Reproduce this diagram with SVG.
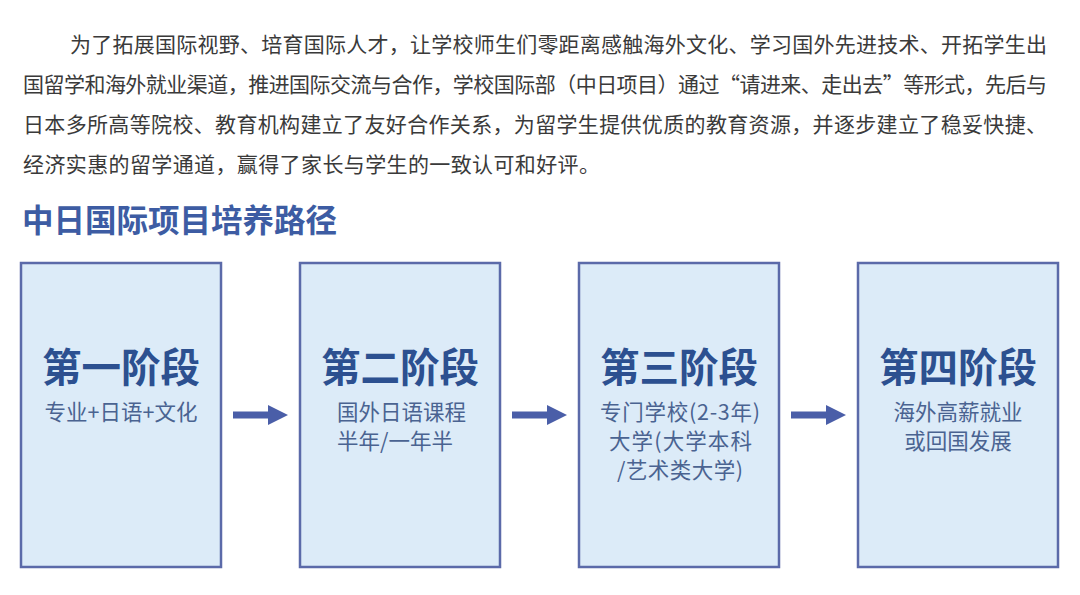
<svg xmlns="http://www.w3.org/2000/svg" width="1080" height="595" viewBox="0 0 1080 595">
<style>
.body{font-family:"Noto Sans CJK SC","Noto Sans",sans-serif;font-size:21px;fill:#3a3a3a}
.head{font-family:"Noto Sans CJK SC","Noto Sans",sans-serif;font-size:31.5px;font-weight:700;fill:#3d5ca3}
.box{fill:#dcebf8;stroke:#5b6aa9;stroke-width:2.5}
.ttl{font-family:"Noto Sans CJK SC","Noto Sans",sans-serif;font-size:39.5px;font-weight:700;fill:#2c5090;text-anchor:middle}
.sub{font-family:"Noto Sans CJK SC","Noto Sans",sans-serif;font-size:21.5px;fill:#4a6391}
.arrow{fill:#4a5ea8}
</style>
<rect width="1080" height="595" fill="#ffffff"/>
<g id="intro">
<text class="body" x="70" y="52" textLength="977" lengthAdjust="spacing">为了拓展国际视野、培育国际人才，让学校师生们零距离感触海外文化、学习国外先进技术、开拓学生出</text>
<text class="body" x="23" y="92" textLength="1024" lengthAdjust="spacing">国留学和海外就业渠道，推进国际交流与合作，学校国际部（中日项目）通过“请进来、走出去”等形式，先后与</text>
<text class="body" x="23" y="132" textLength="1024" lengthAdjust="spacing">日本多所高等院校、教育机构建立了友好合作关系，为留学生提供优质的教育资源，并逐步建立了稳妥快捷、</text>
<text class="body" x="23" y="172" textLength="577" lengthAdjust="spacing">经济实惠的留学通道，赢得了家长与学生的一致认可和好评。</text>
</g>
<g id="heading">
<text class="head" x="22" y="232">中日国际项目培养路径</text>
</g>
<g id="stage1">
<rect class="box" x="21" y="263" width="200" height="304"/>
<text class="ttl" x="121" y="382">第一阶段</text>
<text class="sub" x="121" y="420" text-anchor="middle">专业+日语+文化</text>
</g>
<g id="stage2">
<rect class="box" x="300" y="263" width="200" height="304"/>
<text class="ttl" x="400" y="382">第二阶段</text>
<text class="sub" x="337" y="420">国外日语课程</text>
<text class="sub" x="337" y="449">半年/一年半</text>
</g>
<g id="stage3">
<rect class="box" x="579" y="263" width="200" height="304"/>
<text class="ttl" x="679" y="382">第三阶段</text>
<text class="sub" x="600" y="420" textLength="160" lengthAdjust="spacing">专门学校(2-3年)</text>
<text class="sub" x="609" y="449" textLength="143" lengthAdjust="spacing">大学(大学本科</text>
<text class="sub" x="617" y="478" textLength="126" lengthAdjust="spacing">/艺术类大学)</text>
</g>
<g id="stage4">
<rect class="box" x="858" y="263" width="200" height="304"/>
<text class="ttl" x="958" y="382">第四阶段</text>
<text class="sub" x="958" y="420" text-anchor="middle">海外高薪就业</text>
<text class="sub" x="958" y="449" text-anchor="middle">或回国发展</text>
</g>
<g id="connectors">
<path class="arrow" d="M233 411.5 H268 V405 L288 415 L268 425 V418.5 H233 Z"/>
<path class="arrow" d="M512 411.5 H547 V405 L567 415 L547 425 V418.5 H512 Z"/>
<path class="arrow" d="M791 411.5 H826 V405 L846 415 L826 425 V418.5 H791 Z"/>
</g>
</svg>
